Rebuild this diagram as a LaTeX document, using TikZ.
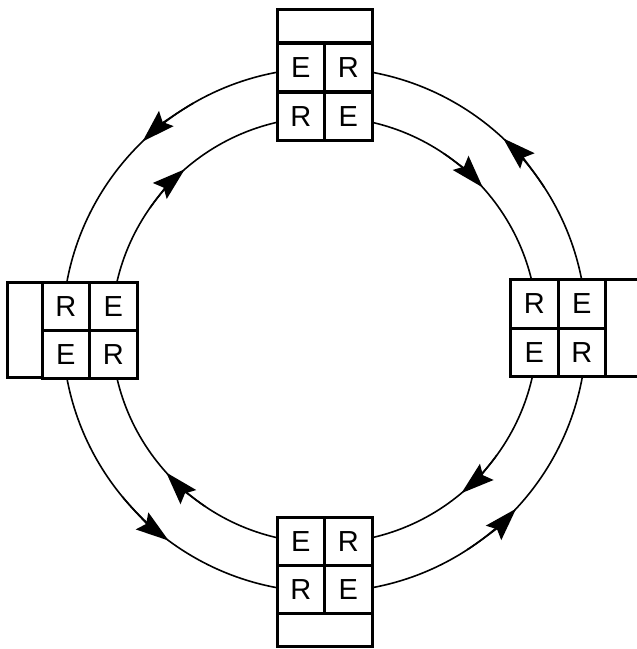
\documentclass[tikz,border=0pt]{standalone}
\usepackage{fontspec}
\setmainfont{Liberation Sans}
\usetikzlibrary{arrows.meta}
\begin{document}
\begin{tikzpicture}[x=1pt,y=1pt,
  ring/.style={line width=1.6pt},
  tipline/.style={line width=1.6pt,-{Stealth[length=33pt,width=21pt,inset=5pt]}},
  cellbox/.style={draw,line width=3pt,fill=white,minimum width=47.5pt,minimum height=48.5pt,inner sep=0pt,font=\fontsize{29}{29}\selectfont},
  headh/.style={draw,line width=3pt,fill=white,minimum width=95pt,minimum height=33pt,inner sep=0pt},
  headv/.style={draw,line width=3pt,fill=white,minimum width=35pt,minimum height=95pt,inner sep=0pt}]
\useasboundingbox (0,0) rectangle (637,649);
\coordinate (c) at (324.5,319);
\def\Ro{262}
\def\Ri{213}
\draw[ring] (c) circle[radius=\Ro];
\draw[ring] (c) circle[radius=\Ri];
% outer ring arrows (counterclockwise)
\foreach \a in {134,233.5,317,47}{
  \draw[tipline] (c) ++(\a-14:\Ro) arc[start angle=\a-14,end angle=\a,radius=\Ro];
}
% inner ring arrows (clockwise)
\foreach \a in {131,222,310,42}{
  \draw[tipline] (c) ++(\a+14:\Ri) arc[start angle=\a+14,end angle=\a,radius=\Ri];
}
% top station
\node[headh] (th) at (324.5,622.5) {};
\node[cellbox] (t11) at (300.75,581.5) {E};
\node[cellbox] (t12) at (348.25,581.5) {R};
\node[cellbox] (t21) at (300.75,532.5) {R};
\node[cellbox] (t22) at (348.25,532.5) {E};
% bottom station
\node[cellbox] (b11) at (300.75,107) {E};
\node[cellbox] (b12) at (348.25,107) {R};
\node[cellbox] (b21) at (300.75,59.5) {R};
\node[cellbox] (b22) at (348.25,59.5) {E};
\node[headh] (bh) at (324.5,19) {};
% left station
\node[headv] (lh) at (24.5,318.5) {};
\node[cellbox] (l11) at (65.75,342.5) {R};
\node[cellbox] (l12) at (113.25,342.5) {E};
\node[cellbox] (l21) at (65.75,294.5) {E};
\node[cellbox] (l22) at (113.25,294.5) {R};
% right station
\node[cellbox] (r11) at (534.25,345) {R};
\node[cellbox] (r12) at (581.75,345) {E};
\node[cellbox] (r21) at (534.25,296.5) {E};
\node[cellbox] (r22) at (581.75,296.5) {R};
\node[headv,minimum height=97pt,minimum width=44pt] (rh) at (627.5,320.75) {};
\end{tikzpicture}
\end{document}
